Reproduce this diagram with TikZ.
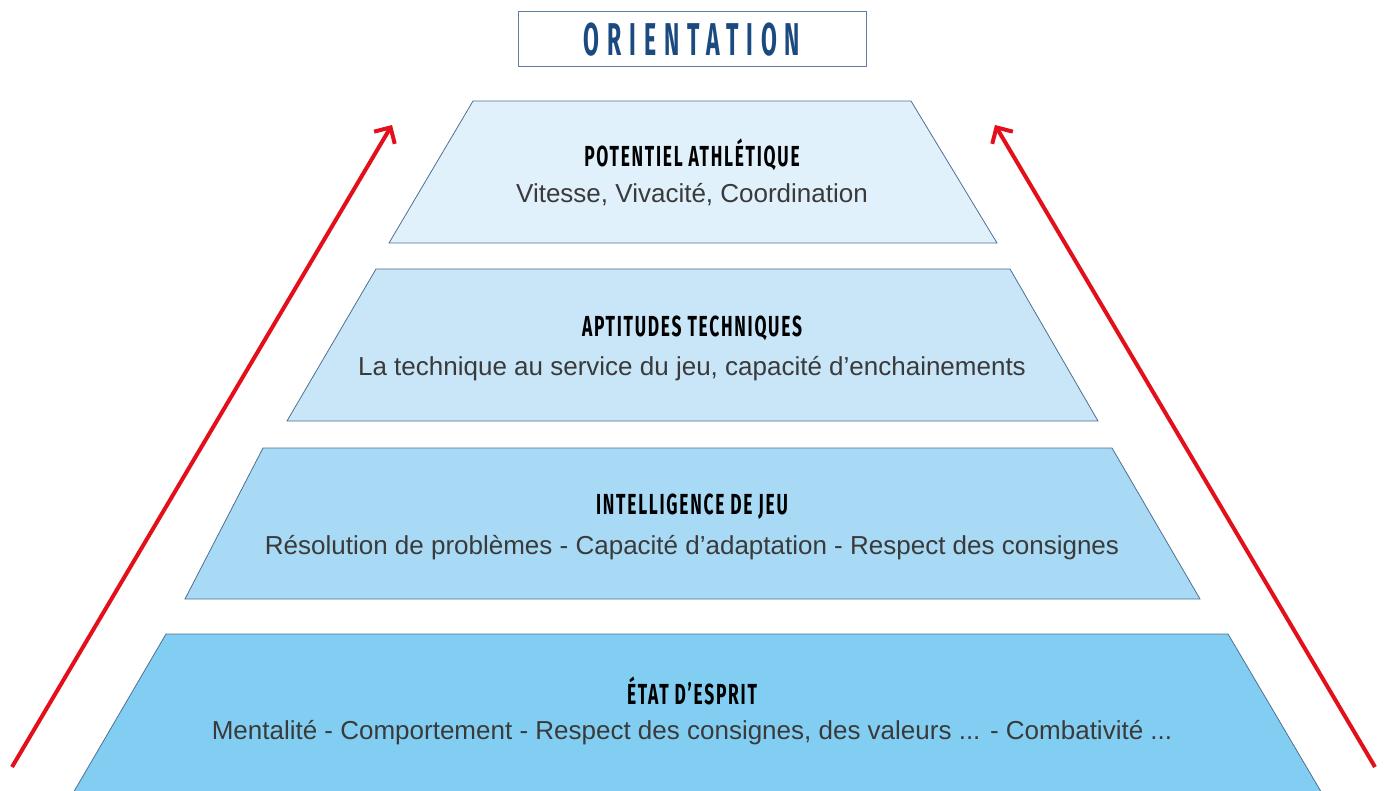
\documentclass[tikz,border=0pt]{standalone}
\usepackage{fontspec}
\setmainfont{Liberation Sans}
\newfontfamily\headfont[FakeStretch=0.6,LetterSpace=6]{Fira Sans}
\newfontfamily\titlefont[FakeStretch=0.5,LetterSpace=17]{Fira Sans}
\usetikzlibrary{arrows.meta}

\definecolor{layerA}{HTML}{E1F1FC}
\definecolor{layerB}{HTML}{C9E6F8}
\definecolor{layerC}{HTML}{A8DAF5}
\definecolor{layerD}{HTML}{82CEF3}
\definecolor{edgeblue}{HTML}{4F6F92}
\definecolor{framecol}{HTML}{5D7FA6}
\definecolor{titleblue}{HTML}{1B4A80}
\definecolor{arrowred}{HTML}{E3101B}
\definecolor{bodygray}{HTML}{3A3A3A}

\tikzset{
  layer/.style={draw=edgeblue, line width=0.8pt},
  head/.style={font=\headfont\bfseries\fontsize{29}{32}\selectfont, text=black},
  body/.style={font=\fontsize{26}{30}\selectfont, text=bodygray},
  rise/.style={draw=arrowred, line width=4pt, -{Straight Barb[length=12pt,width=24pt]}},
}

\begin{document}
\begin{tikzpicture}[x=1pt,y=-1pt]
    \useasboundingbox (0,0) rectangle (1384,791);
    \clip (0,0) rectangle (1384,791);

    % title
    \node[draw=framecol, line width=1pt, minimum width=348pt, minimum height=55pt,
          font=\titlefont\bfseries\fontsize{46}{50}\selectfont, text=titleblue]
          (orient) at (692,39.5) {ORIENTATION};

    % layers, top to bottom
    \filldraw[layer, fill=layerA] (473,101) -- (911,101) -- (997,243) -- (389,243) -- cycle;
    \filldraw[layer, fill=layerB] (376,269) -- (1010,269) -- (1098,421) -- (287,421) -- cycle;
    \filldraw[layer, fill=layerC] (263,448) -- (1112,448) -- (1200,599) -- (185,599) -- cycle;
    \filldraw[layer, fill=layerD] (166,634) -- (1228,634) -- (1333,812) -- (62,812) -- cycle;

    \node[head] (athl) at (692,155) {POTENTIEL ATHLÉTIQUE};
    \node[body] (athltxt) at (692,195) {Vitesse, Vivacité, Coordination};

    \node[head] (tech) at (692,328) {APTITUDES TECHNIQUES};
    \node[body] (techtxt) at (692,369) {La technique au service du jeu, capacité d’enchainements};

    \node[head] (intel) at (692,507) {INTELLIGENCE DE JEU};
    \node[body] (inteltxt) at (692,548) {Résolution de problèmes - Capacité d’adaptation - Respect des consignes};

    \node[head] (esprit) at (692,691) {ÉTAT D’ESPRIT};
    \node[body] (esprittxt) at (692,733) {Mentalité - Comportement - Respect des consignes, des valeurs ... - Combativité ...};

    % side arrows
    \coordinate (lbase) at (12,767);
    \coordinate (ltip) at (392,125);
    \coordinate (rbase) at (1375,767);
    \coordinate (rtip) at (995,125);
    \draw[rise] (lbase) -- (ltip);
    \draw[rise] (rbase) -- (rtip);
\end{tikzpicture}
\end{document}
